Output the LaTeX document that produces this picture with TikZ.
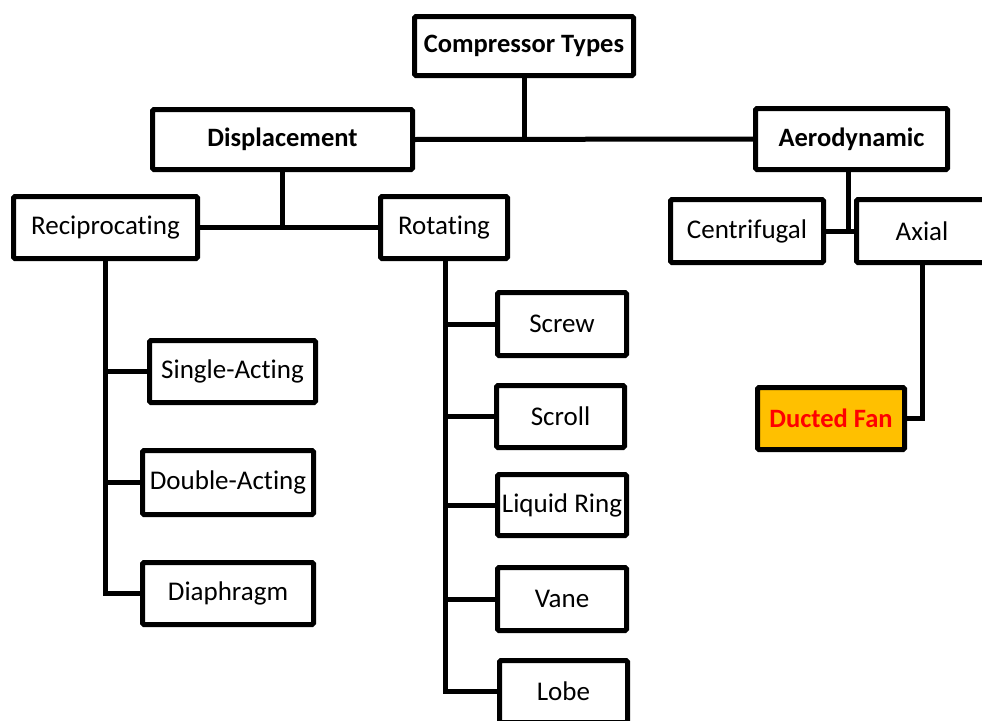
\documentclass[tikz,border=0pt]{standalone}
\usepackage{fontspec}
\setmainfont{Carlito}[Ligatures=NoCommon]
\begin{document}
\begin{tikzpicture}[x=1pt,y=-1pt,
  box/.style={draw=black,line width=5pt,rounded corners=1.5pt,fill=white,inner sep=0pt,
    font=\fontsize{27}{31}\selectfont,align=center},
  bbox/.style={box,font=\fontsize{26.5}{31}\selectfont\bfseries},
  conn/.style={draw=black,line width=5pt,line join=miter}]
\useasboundingbox (0,0) rectangle (982,720);
\fill[white] (0,0) rectangle (982,720);
% top levels
\node[bbox,minimum width=219pt,minimum height=59pt] (ct) at (524,46) {Compressor Types};
\node[bbox,minimum width=260pt,minimum height=60pt] (disp) at (282.5,139.5) {Displacement};
\node[bbox,minimum width=192pt,minimum height=61pt] (aero) at (851.5,139) {Aerodynamic};
% second level
\node[box,minimum width=184pt,minimum height=62pt] (recip) at (105.5,227.5) {Reciprocating};
\node[box,minimum width=127pt,minimum height=62pt] (rot) at (444,227.5) {Rotating};
\node[box,minimum width=153pt,minimum height=63pt] (cent) at (747,231) {Centrifugal};
\node[box,minimum width=131pt,minimum height=63pt] (axial) at (922,231) {Axial};
% reciprocating children
\node[box,minimum width=166pt,minimum height=62pt] (single) at (232.5,371.5) {Single-Acting};
\node[box,minimum width=171pt,minimum height=64pt] (double) at (228,482.5) {Double-Acting};
\node[box,minimum width=171pt,minimum height=62pt] (diaph) at (228,593.5) {Diaphragm};
% rotating children
\node[box,minimum width=129pt,minimum height=63pt] (screw) at (562,324) {Screw};
\node[box,minimum width=128pt,minimum height=62pt] (scroll) at (560.5,416.5) {Scroll};
\node[box,minimum width=129pt,minimum height=61pt] (liquid) at (562,505) {Liquid Ring};
\node[box,minimum width=129pt,minimum height=63pt] (vane) at (562,599) {Vane};
\node[box,minimum width=128pt,minimum height=62pt] (lobe) at (563.5,691.5) {Lobe};
% axial child
\node[bbox,fill={rgb,255:red,255;green,192;blue,0},text={rgb,255:red,255;green,0;blue,0},
  minimum width=147pt,minimum height=62pt] (duct) at (831,418.5) {Ducted Fan};
% connectors
\draw[conn] (ct.south) -- (ct.south |- disp.east);
\draw[conn] (disp.east) -- (aero.west);
\draw[conn] (disp.south) -- (disp.south |- recip.east);
\draw[conn] (recip.east) -- (rot.west);
\coordinate (astem) at (848,172);
\draw[conn] (astem) -- (astem |- cent.east);
\draw[conn] (cent.east) -- (axial.west);
\draw[conn] (axial.south) -- (axial.south |- duct.east) -- (duct.east);
\draw[conn] (recip.south) -- (recip.south |- diaph.west) -- (diaph.west);
\draw[conn] (recip.south |- single.west) -- (single.west);
\draw[conn] (recip.south |- double.west) -- (double.west);
\coordinate (rstem) at (445,258);
\draw[conn] (rstem) -- (rstem |- lobe.west) -- (lobe.west);
\draw[conn] (rstem |- screw.west) -- (screw.west);
\draw[conn] (rstem |- scroll.west) -- (scroll.west);
\draw[conn] (rstem |- liquid.west) -- (liquid.west);
\draw[conn] (rstem |- vane.west) -- (vane.west);
\end{tikzpicture}
\end{document}
